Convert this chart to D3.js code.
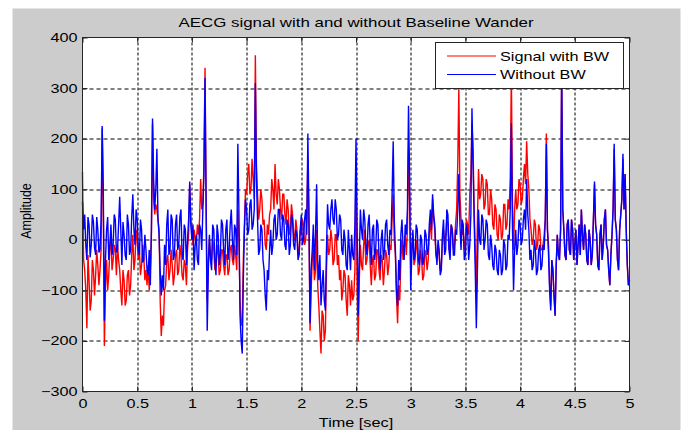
<!DOCTYPE html>
<html>
<head>
<meta charset="utf-8">
<script src="https://cdn.jsdelivr.net/npm/d3@7/dist/d3.min.js"></script>
<style>
  body { margin: 0; background: #ffffff; }
  svg text { font-family: "Liberation Sans", Arial, sans-serif; fill: #000; }
</style>
</head>
<body>
<script>

// sample spacing of both signals (sec)
var dt = 0.01;

// signal with baseline wander (red), one row = 0.2 sec
var withBW = [
  134, -40, -60, -100, -175, -30, -80, -140, -120, -40, -60, -110, -70, -20, -50, -90, -60, -20, 220, 60,
  -210, -90, -40, -100, -70, -20, 10, -60, -40, -10, -20, -70, -10, -40, -60, -100, -130, -60, -80, -130,
  -120, -70, -60, -110, -90, -30, 10, -60, -40, 20, 0, -40, -20, -70, -50, -10, -30, -80, -60, -90,
  -50, -100, -60, 10, 230, 80, 50, 70, 60, 40, 20, -120, -190, -150, -170, -100, -90, -40, -30, -80,
  -60, -20, -50, -90, -70, -30, -20, -70, -60, -10, -30, -70, -80, -40, -50, -90, -20, 10, 110, 40,
  20, -10, 20, 0, -10, 30, 10, 40, 120, 60, 70, 150, 340, 80, -120, -40, 0, -30, -40, 0,
  -20, -60, -50, -10, -30, -70, -60, -20, -20, -50, -70, -30, -30, -70, -60, -20, -10, -40, -50, -10,
  -30, -60, 60, 0, -120, -170, -160, -40, 30, 100, 90, 130, 150, 90, 100, 160, 120, 80, 365, 150,
  90, 40, 60, 100, 80, 30, 40, -10, -20, 30, 10, 50, 60, 120, 100, 60, 150, 90, 70, 120,
  100, 60, 40, 90, 90, 50, 30, 80, 60, 10, 20, 70, 50, 10, 0, 40, 20, -20, -30, 20,
  10, 40, 30, -10, 0, 40, 160, 20, -180, -100, -40, -10, -80, -60, 20, -90, -130, -180, -225, -140,
  -150, -200, -180, -60, 10, -30, -20, 20, 0, -50, -40, 10, 10, -50, -30, -80, -60, -120, -100, -60,
  -70, -120, -150, -70, -90, -130, -80, -120, -110, -60, 150, -80, -200, -80, -10, -50, -60, -10, 20, -50,
  -40, -10, 0, -50, -90, -40, -30, -80, -70, -20, -20, -60, -80, -30, -40, -90, -60, -20, -30, -70,
  -50, -10, -20, 40, 90, 0, -30, -110, -165, -90, -120, -40, 0, -40, -20, 10, -30, 20, 180, 80,
  -60, -10, 10, -50, -40, 0, -20, -70, -60, -20, -40, -80, -70, -20, -30, -60, -40, 10, 40, 0,
  80, 40, 20, -30, -40, -10, -30, -60, -50, 0, 20, -10, 10, 40, 30, -20, 0, 30, 20, -20,
  -10, 30, 60, 150, 300, 90, 40, 10, 20, -20, 0, 40, 30, 10, 90, 130, 230, 180, 60, -20,
  -100, 40, 140, 80, 90, 130, 120, 60, 70, 120, 110, 50, 50, 100, 80, 30, 20, 70, 60, 10,
  0, 50, 40, 0, 10, 70, 70, 20, 30, 80, 60, 120, 330, 80, -20, 60, 100, 60, 70, 120,
  110, 70, 80, 120, 150, 110, 195, 130, 100, 40, 20, -10, 0, 40, 30, -20, -10, 30, 20, -20,
  -20, -10, 10, 40, 210, 20, -10, -90, -130, -40, -60, -110, -150, -50, 10, -30, -40, 20, 340, 60,
  20, -30, -40, 30, 40, -20, -30, 40, 20, -40, -10, 20, -50, -10, 30, -30, 60, 10, -20, 30,
  10, -40, -50, 20, 0, -50, -30, 40, 110, 30, 10, -50, -60, 10, 30, -40, -10, 40, 60, -10,
  -20, -60, -90, -30, 10, 60, 180, 40, 20, -40, -60, 20, 50, 80, 160, 60, 130, 20, -50, -90,
  -80
];

// signal after baseline wander removal (blue)
var withoutBW = [
  75, 20, 50, -10, -40, 45, 30, -35, -10, 50, 35, -15, -30, 45, 20, -25, -20, 40, 225, 100,
  -160, -40, 20, 45, -40, -10, 30, -30, -10, 50, 40, -25, -20, 30, 85, 20, -50, 35, 10, -30,
  -40, 50, 30, -30, -20, 45, 90, 20, -10, 60, 40, -20, -30, 40, 20, -45, -40, 10, -20, -60,
  -70, -20, -90, 20, 240, 120, 60, 100, 180, 40, 10, -60, -110, -70, -100, -10, -50, 30, 60, -30,
  -20, 50, 40, -40, -30, 30, 50, -20, -10, 45, 60, -30, -40, 30, 20, -50, 0, 40, 115, 30,
  0, 30, -60, -10, 10, -40, -50, 30, 20, -20, 60, 130, 320, 60, -180, -60, 10, -40, -60, 30,
  20, -40, -70, 30, 10, -50, -30, 40, 30, -20, -50, 20, 40, -40, -20, 30, 60, 0, -40, 30,
  20, -30, 190, 50, -150, -200, -225, -80, 20, 80, 60, 10, 20, 70, 80, 20, 30, 60, 310, 120,
  40, -30, -20, 30, 20, -40, -60, -110, -140, -60, -80, -20, 20, -30, -10, 40, 50, 0, 10, 60,
  60, 10, 0, 50, 40, -10, -20, 40, 30, -30, -10, 50, 40, -10, -20, 20, 10, -40, -30, 20,
  50, -10, 0, 40, 60, 10, 210, 50, -165, -60, -20, 30, -60, 10, 110, -40, -80, -30, -130, -90,
  -60, -120, -140, -20, 70, 30, 20, 60, 80, 40, 30, 80, 60, 0, 10, 50, 40, -20, -30, 20,
  0, -50, -60, 20, -20, -60, 10, -30, -40, 30, 200, 20, -150, -40, 60, 20, 0, 60, 40, -10,
  -30, 30, 50, -10, -50, 20, 30, -40, -20, 40, 30, -30, -60, 0, 20, -40, -20, 30, 40, -10,
  -30, 20, 10, 90, 195, 40, -20, -100, -130, -40, -80, 10, 40, -10, -40, 30, 10, 60, 265, 120,
  -100, -30, 20, -40, -30, 30, 20, -40, -50, 10, 0, -50, -40, 20, 10, -30, -20, 30, 60, 20,
  90, 50, 30, -20, -50, 0, -20, -70, -60, 10, 40, -30, -20, 60, 50, -20, -40, 30, 20, -30,
  -30, 20, 10, 60, 130, 30, -20, 40, 30, -40, -30, 30, 20, -40, -10, 50, 260, 150, 40, -60,
  -175, -60, 60, 0, -10, 50, 40, -20, 0, 40, 30, -30, -40, 10, -10, -50, -60, -10, -20, -60,
  -70, -20, -30, -70, -60, 0, -10, -60, -50, 10, 0, 60, 230, 30, -100, -20, 20, -30, -10, 40,
  30, -10, 0, 40, 60, 20, 120, 50, 20, -40, -20, -60, -50, 0, -20, -70, -60, -20, -10, -60,
  -50, -10, -20, 40, 190, 20, -30, -100, -140, -40, -60, -110, -150, -50, 10, -30, -40, 20, 340, 60,
  20, -30, -40, 30, 40, -20, -30, 40, 20, -40, -10, 20, -50, -10, 30, -30, 60, 10, -20, 30,
  10, -40, -50, 20, 0, -50, -30, 40, 115, 30, 10, -50, -60, 10, 30, -40, -10, 40, 60, -10,
  -20, -60, -90, -30, 10, 60, 190, 40, 20, -40, -60, 20, 50, 80, 170, 60, 130, 20, -50, -90,
  -80
];

var seriesNames = ["Signal with BW", "Without BW"];
var seriesColors = ["#ff0000", "#0000ff"];

var xTicks = [0, 0.5, 1, 1.5, 2, 2.5, 3, 3.5, 4, 4.5, 5];
var xTickLabels = ["0", "0.5", "1", "1.5", "2", "2.5", "3", "3.5", "4", "4.5", "5"];
var yTicks = [-300, -200, -100, 0, 100, 200, 300, 400];

var svgWidth = 688;
var svgHeight = 430;

var margin = {
  top: 37.5,
  right: 58.5,
  bottom: 38.5,
  left: 82.5
};

var chartWidth = svgWidth - margin.left - margin.right;
var chartHeight = svgHeight - margin.top - margin.bottom;

// the picture is a bit wider than tall, text gets widened by this
var stretch = 1.3;

var svg = d3.select("body")
  .append("svg")
  .attr("width", svgWidth)
  .attr("height", svgHeight);

// grey figure background
svg.append("rect")
  .attr("x", 12.5)
  .attr("y", 8.5)
  .attr("width", 668)
  .attr("height", svgHeight - 8.5)
  .attr("fill", "#cccccc");

var g = svg.append("g")
  .attr("transform", `translate(${margin.left}, ${margin.top})`);

g.append("rect")
  .attr("width", chartWidth)
  .attr("height", chartHeight)
  .attr("fill", "#ffffff");

var xScale = d3.scaleLinear()
  .domain([0, 5])
  .range([0, chartWidth]);

var yScale = d3.scaleLinear()
  .domain([-300, 400])
  .range([chartHeight, 0]);

// dashed grid
g.selectAll(".vgrid")
  .data(xTicks.slice(1, -1))
  .enter()
  .append("line")
  .attr("x1", d => Math.round(xScale(d)) + 0.5)
  .attr("x2", d => Math.round(xScale(d)) + 0.5)
  .attr("y1", 0)
  .attr("y2", chartHeight)
  .attr("stroke", "#000")
  .attr("stroke-dasharray", "3,2");

g.selectAll(".hgrid")
  .data(yTicks.slice(1, -1))
  .enter()
  .append("line")
  .attr("x1", 0)
  .attr("x2", chartWidth)
  .attr("y1", d => Math.round(yScale(d)) + 0.5)
  .attr("y2", d => Math.round(yScale(d)) + 0.5)
  .attr("stroke", "#000")
  .attr("stroke-dasharray", "4,3");

// signals, red first so blue lies on top
var line = d3.line()
  .x((d, i) => xScale(i * dt))
  .y(d => yScale(d));

[withBW, withoutBW].forEach(function(series, k) {
  g.append("path")
    .datum(series)
    .attr("d", line)
    .attr("fill", "none")
    .attr("stroke", seriesColors[k])
    .attr("stroke-width", 1.4)
    .attr("stroke-linejoin", "miter");
});

// axes with inward ticks on all four sides
var bottomAxis = d3.axisBottom(xScale)
  .tickValues(xTicks)
  .tickFormat((d, i) => xTickLabels[i])
  .tickSize(-5)
  .tickSizeOuter(0)
  .tickPadding(8);

var leftAxis = d3.axisLeft(yScale)
  .tickValues(yTicks)
  .tickSize(-5)
  .tickSizeOuter(0)
  .tickPadding(5);

var topAxis = d3.axisTop(xScale)
  .tickValues(xTicks)
  .tickFormat("")
  .tickSize(-5)
  .tickSizeOuter(0);

var rightAxis = d3.axisRight(yScale)
  .tickValues(yTicks)
  .tickFormat("")
  .tickSize(-5)
  .tickSizeOuter(0);

var xAxisG = g.append("g")
  .attr("transform", `translate(0, ${chartHeight})`)
  .call(bottomAxis);

var yAxisG = g.append("g")
  .call(leftAxis);

g.append("g").call(topAxis);
g.append("g")
  .attr("transform", `translate(${chartWidth}, 0)`)
  .call(rightAxis);

g.selectAll(".domain").remove();
g.selectAll(".tick line").attr("stroke", "#222");

g.selectAll(".tick text")
  .attr("font-size", "12.5px")
  .attr("fill", "#000");

xAxisG.selectAll("text")
  .attr("transform", `scale(${stretch}, 1)`);

yAxisG.selectAll("text")
  .attr("x", -5 / stretch)
  .attr("transform", `scale(${stretch}, 1)`);

// axes box
g.append("rect")
  .attr("x", 0)
  .attr("y", 0)
  .attr("width", chartWidth)
  .attr("height", chartHeight)
  .attr("fill", "none")
  .attr("stroke", "#262626");

// title and axis titles
svg.append("text")
  .attr("transform", `translate(${margin.left + chartWidth / 2}, 27) scale(${stretch}, 1)`)
  .attr("text-anchor", "middle")
  .attr("font-size", "13px")
  .text("AECG signal with and without Baseline Wander");

svg.append("text")
  .attr("transform", `translate(${margin.left + chartWidth / 2}, 426.5) scale(${stretch}, 1)`)
  .attr("text-anchor", "middle")
  .attr("font-size", "12.5px")
  .text("Time [sec]");

svg.append("text")
  .attr("transform", "translate(30.5, 211) rotate(-90) scale(1, 1.15)")
  .attr("text-anchor", "middle")
  .attr("font-size", "12.5px")
  .text("Amplitude");

// legend box top right
var legend = svg.append("g")
  .attr("transform", "translate(435.5, 42.5)");

legend.append("rect")
  .attr("width", 188)
  .attr("height", 46)
  .attr("fill", "#ffffff")
  .attr("stroke", "#262626");

seriesNames.forEach(function(name, k) {
  var ly = 13.5 + k * 18.5;
  legend.append("line")
    .attr("x1", 11.5)
    .attr("x2", 60.5)
    .attr("y1", ly)
    .attr("y2", ly)
    .attr("stroke", seriesColors[k])
    .attr("stroke-width", 1.2);
  legend.append("text")
    .attr("transform", `translate(64.5, ${ly + 4.5}) scale(${stretch}, 1)`)
    .attr("font-size", "12.5px")
    .text(name);
});

</script>
</body>
</html>
